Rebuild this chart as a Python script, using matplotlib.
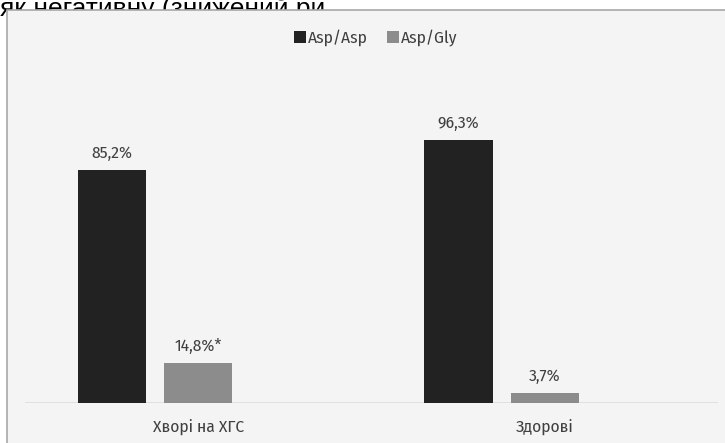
import matplotlib
matplotlib.use("Agg")
import matplotlib.pyplot as plt
from matplotlib.patches import Rectangle, Patch

categories = ["Хворі на ХГС", "Здорові"]
series_names = ["Asp/Asp", "Asp/Gly"]
asp_asp = [85.2, 96.3]
asp_gly = [14.8, 3.7]
labels_asp_asp = ["85,2%", "96,3%"]
labels_asp_gly = ["14,8%*", "3,7%"]
colors = ["#222222", "#8c8c8c"]

W, H = 725, 443
fig = plt.figure(figsize=(W / 100, H / 100), dpi=100)
fig.patch.set_facecolor("white")

font = ["Fira Sans Condensed", "DejaVu Sans"]
fs = 12.5

# Cut-off document text above the chart
fig.text(0 / W, 1 - 16 / H, "як негативну (знижений ри", fontsize=19,
         family=["Liberation Sans", "DejaVu Sans"], color="black",
         ha="left", va="baseline", zorder=0)

# Chart box
box = Rectangle((7 / W, -0.05), (W + 5 - 7) / W, 1 - 10 / H + 0.05,
                transform=fig.transFigure, facecolor="#f4f4f4",
                edgecolor="#a8a8a8", linewidth=1.2, zorder=1)
fig.patches.append(box)

left, right = 25, 718
base, top100 = 403, 403 - 273.5
ax = fig.add_axes([left / W, (H - base) / H, (right - left) / W, (base - top100) / H])
ax.set_facecolor("none")
ax.set_zorder(2)

x = list(range(len(categories)))
w = 0.197
step = 0.2486
b1 = ax.bar([i - step for i in x], asp_asp, width=w, color=colors[0], zorder=3)
b2 = ax.bar([i for i in x], asp_gly, width=w, color=colors[1], zorder=3)

for bars, labs in ((b1, labels_asp_asp), (b2, labels_asp_gly)):
    for r, t in zip(bars, labs):
        ax.annotate(t, (r.get_x() + r.get_width() / 2, r.get_height()),
                    xytext=(0, 6), textcoords="offset points",
                    ha="center", va="bottom", fontsize=fs, color="#404040",
                    family=font)

ax.set_xlim(-0.5, 1.5)
ax.set_ylim(0, 100)
for s in ax.spines.values():
    s.set_visible(False)
ax.axhline(0, color="#dedede", linewidth=2, zorder=2)
ax.set_yticks([])
ax.set_xticks(x)
ax.set_xticklabels(categories, fontsize=fs, color="#404040", family=font)
ax.tick_params(axis="x", length=0, pad=12)

handles = [Patch(facecolor=colors[0]), Patch(facecolor=colors[1])]
leg = fig.legend(handles, series_names, loc="center",
                 bbox_to_anchor=(376 / W, 1 - 38 / H), ncol=2, frameon=False,
                 handlelength=0.65, handleheight=0.65, handletextpad=0.15,
                 columnspacing=1.1, prop={"family": font, "size": fs})
for t in leg.get_texts():
    t.set_color("#404040")

fig.savefig("out.png", dpi=100)
